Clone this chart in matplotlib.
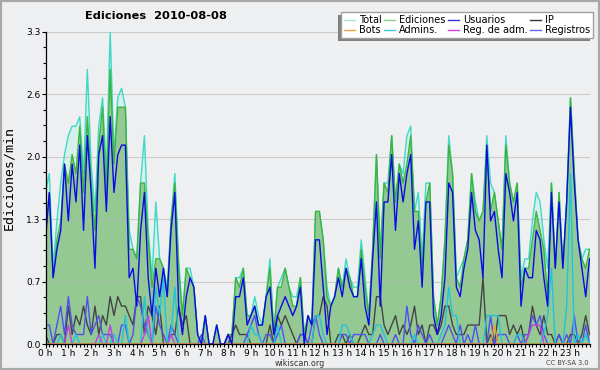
import matplotlib
matplotlib.use('Agg')
import matplotlib.pyplot as plt
from matplotlib.lines import Line2D
from matplotlib.patches import Rectangle
import numpy as np

# edits per minute, one value per 10 minutes (00:00 .. 23:50)
total = [
    1.6, 1.8, 0.8, 1.3, 1.7, 2.0,
    2.2, 2.3, 2.3, 2.4, 1.8, 2.9,
    1.9, 1.4, 2.3, 2.6, 1.8, 3.3,
    2.0, 2.6, 2.7, 2.5, 1.2, 1.0,
    0.9, 1.7, 2.2, 1.2, 0.7, 1.5,
    0.9, 0.8, 0.6, 1.3, 1.8, 0.9,
    0.3, 0.8, 0.8, 0.6, 0.1, 0.0,
    0.3, 0.0, 0.0, 0.2, 0.0, 0.0,
    0.1, 0.1, 0.7, 0.7, 0.8, 0.3,
    0.3, 0.5, 0.3, 0.2, 0.5, 0.9,
    0.1, 0.6, 0.7, 0.8, 0.6, 0.5,
    0.5, 0.7, 0.1, 0.3, 0.2, 1.4,
    1.4, 1.1, 0.6, 0.4, 0.5, 0.8,
    0.6, 0.9, 0.7, 0.6, 0.6, 1.1,
    0.7, 0.3, 1.0, 2.0, 1.0, 1.7,
    1.7, 2.2, 1.5, 1.9, 1.8, 2.2,
    2.3, 1.4, 1.6, 0.9, 1.7, 1.7,
    0.5, 0.2, 0.5, 1.1, 2.2, 1.8,
    0.7, 0.8, 0.9, 1.1, 1.8, 1.5,
    1.3, 1.4, 2.2, 1.7, 1.6, 1.3,
    1.0, 2.2, 1.7, 1.5, 1.7, 0.7,
    0.9, 0.9, 1.3, 1.6, 1.5, 1.1,
    0.8, 1.7, 0.8, 1.6, 0.8, 1.5,
    2.6, 1.8, 1.1, 0.9, 1.0, 1.0,
]
ediciones = [
    1.2, 1.6, 0.7, 1.1, 1.3, 1.9,
    1.7, 2.0, 1.8, 2.3, 1.6, 2.4,
    1.7, 1.2, 2.1, 2.5, 1.6, 2.9,
    1.9, 2.5, 2.5, 2.5, 1.0, 1.0,
    0.9, 1.7, 1.7, 1.1, 0.6, 0.9,
    0.9, 0.8, 0.5, 1.3, 1.7, 0.8,
    0.3, 0.8, 0.7, 0.6, 0.1, 0.0,
    0.3, 0.0, 0.0, 0.2, 0.0, 0.0,
    0.1, 0.1, 0.7, 0.6, 0.8, 0.3,
    0.3, 0.4, 0.2, 0.2, 0.5, 0.8,
    0.1, 0.6, 0.6, 0.8, 0.6, 0.4,
    0.4, 0.7, 0.1, 0.3, 0.2, 1.4,
    1.4, 1.1, 0.5, 0.4, 0.5, 0.8,
    0.6, 0.8, 0.7, 0.5, 0.5, 1.0,
    0.6, 0.3, 1.0, 2.0, 0.9, 1.7,
    1.6, 2.2, 1.5, 1.9, 1.7, 1.9,
    2.2, 1.4, 1.4, 0.8, 1.5, 1.7,
    0.5, 0.2, 0.5, 1.1, 2.1, 1.8,
    0.7, 0.6, 0.9, 1.1, 1.8, 1.4,
    1.3, 1.4, 2.1, 1.4, 1.6, 1.3,
    1.0, 2.1, 1.7, 1.5, 1.7, 0.6,
    0.8, 0.8, 1.1, 1.4, 1.2, 1.0,
    0.5, 1.7, 0.8, 1.6, 0.8, 1.5,
    2.6, 1.8, 1.1, 0.9, 0.8, 1.0,
]
usuarios = [
    1.1, 1.6, 0.7, 1.0, 1.2, 1.9,
    1.3, 1.9, 1.5, 2.1, 1.2, 2.2,
    1.6, 0.8, 2.0, 2.2, 1.4, 2.4,
    1.6, 2.0, 2.1, 2.1, 0.7, 0.8,
    0.4, 1.2, 1.6, 0.7, 0.3, 0.8,
    0.5, 0.8, 0.5, 1.2, 1.6, 0.4,
    0.1, 0.5, 0.7, 0.6, 0.1, 0.0,
    0.3, 0.0, 0.0, 0.2, 0.0, 0.0,
    0.1, 0.0, 0.5, 0.5, 0.7, 0.2,
    0.3, 0.4, 0.2, 0.2, 0.5, 0.6,
    0.1, 0.3, 0.4, 0.5, 0.4, 0.3,
    0.4, 0.6, 0.0, 0.3, 0.2, 1.1,
    1.1, 0.6, 0.1, 0.4, 0.5, 0.7,
    0.5, 0.8, 0.6, 0.5, 0.5, 0.9,
    0.4, 0.2, 0.9, 1.5, 0.4, 1.5,
    1.5, 2.0, 1.2, 1.8, 1.5, 1.8,
    2.0, 1.0, 1.3, 0.6, 1.5, 1.5,
    0.3, 0.1, 0.3, 0.7, 1.7, 1.6,
    0.6, 0.5, 0.8, 1.0, 1.6, 1.2,
    1.1, 0.7, 2.1, 1.3, 1.4, 1.0,
    0.7, 1.8, 1.6, 1.3, 1.6, 0.4,
    0.8, 0.7, 0.7, 1.2, 1.1, 0.7,
    0.4, 1.6, 0.8, 1.5, 0.8, 1.5,
    2.5, 1.7, 1.1, 0.8, 0.5, 0.9,
]
ip = [
    0.1, 0.0, 0.0, 0.1, 0.1, 0.0,
    0.4, 0.1, 0.3, 0.2, 0.4, 0.2,
    0.1, 0.4, 0.1, 0.3, 0.2, 0.5,
    0.3, 0.5, 0.4, 0.4, 0.3, 0.2,
    0.5, 0.5, 0.1, 0.4, 0.3, 0.1,
    0.4, 0.0, 0.0, 0.1, 0.1, 0.4,
    0.2, 0.3, 0.0, 0.0, 0.0, 0.0,
    0.0, 0.0, 0.0, 0.0, 0.0, 0.0,
    0.0, 0.1, 0.2, 0.1, 0.1, 0.1,
    0.0, 0.0, 0.0, 0.0, 0.0, 0.2,
    0.0, 0.3, 0.2, 0.3, 0.2, 0.1,
    0.0, 0.1, 0.1, 0.0, 0.0, 0.3,
    0.3, 0.5, 0.4, 0.0, 0.0, 0.1,
    0.1, 0.0, 0.1, 0.0, 0.0, 0.1,
    0.2, 0.1, 0.1, 0.5, 0.5, 0.2,
    0.1, 0.2, 0.3, 0.1, 0.2, 0.1,
    0.2, 0.4, 0.1, 0.2, 0.0, 0.2,
    0.2, 0.1, 0.2, 0.4, 0.4, 0.2,
    0.1, 0.1, 0.1, 0.2, 0.2, 0.2,
    0.2, 0.7, 0.0, 0.1, 0.0, 0.3,
    0.3, 0.3, 0.1, 0.2, 0.1, 0.2,
    0.0, 0.1, 0.4, 0.2, 0.1, 0.3,
    0.1, 0.1, 0.0, 0.1, 0.0, 0.0,
    0.1, 0.1, 0.0, 0.1, 0.3, 0.1,
]
bots = [0.0] * 118 + [0.2] + [0.0] * 25
admins = [
    0.0, 0.0, 0.0, 0.0, 0.1, 0.0,
    0.0, 0.0, 0.1, 0.0, 0.0, 0.0,
    0.0, 0.0, 0.0, 0.1, 0.0, 0.0,
    0.1, 0.0, 0.0, 0.3, 0.0, 0.0,
    0.0, 0.0, 0.5, 0.1, 0.0, 0.6,
    0.3, 0.7, 0.0, 0.1, 0.6, 0.0,
    0.0, 0.0, 0.0, 0.0, 0.0, 0.0,
    0.0, 0.0, 0.0, 0.0, 0.0, 0.0,
    0.0, 0.0, 0.0, 0.0, 0.0, 0.0,
    0.2, 0.1, 0.1, 0.0, 0.0, 0.0,
    0.0, 0.2, 0.0, 0.0, 0.0, 0.0,
    0.0, 0.0, 0.0, 0.0, 0.0, 0.3,
    0.3, 0.1, 0.0, 0.0, 0.0, 0.0,
    0.2, 0.2, 0.1, 0.0, 0.0, 0.0,
    0.0, 0.0, 0.1, 0.2, 0.2, 0.1,
    0.0, 0.0, 0.0, 0.0, 0.0, 0.0,
    0.0, 0.1, 0.0, 0.0, 0.0, 0.0,
    0.0, 0.0, 0.1, 0.2, 0.6, 0.3,
    0.3, 0.0, 0.0, 0.0, 0.0, 0.0,
    0.0, 0.0, 0.3, 0.3, 0.3, 0.3,
    0.0, 0.0, 0.0, 0.0, 0.1, 0.1,
    0.0, 0.0, 0.0, 0.0, 0.0, 0.1,
    0.3, 0.8, 0.0, 0.0, 0.0, 0.4,
    1.8, 0.0, 0.1, 0.0, 0.1, 0.0,
]
reg_adm = [
    0.0, 0.0, 0.0, 0.0, 0.0, 0.0,
    0.2, 0.0, 0.0, 0.0, 0.0, 0.0,
    0.0, 0.0, 0.1, 0.0, 0.0, 0.2,
    0.0, 0.0, 0.0, 0.0, 0.0, 0.0,
    0.0, 0.0, 0.1, 0.3, 0.0, 0.0,
    0.0, 0.0, 0.0, 0.1, 0.0, 0.0,
] + [0.0] * 91 + [0.1, 0.2, 0.2, 0.2] + [0.0] * 13
registros = [
    0.2, 0.2, 0.0, 0.2, 0.4, 0.1,
    0.5, 0.2, 0.1, 0.1, 0.1, 0.5,
    0.1, 0.2, 0.3, 0.1, 0.1, 0.1,
    0.0, 0.0, 0.2, 0.2, 0.0, 0.1,
    0.5, 0.4, 0.2, 0.1, 0.0, 0.4,
    0.2, 0.1, 0.0, 0.2, 0.1, 0.0,
    0.0, 0.0, 0.0, 0.0, 0.0, 0.1,
    0.0, 0.0, 0.0, 0.0, 0.0, 0.0,
    0.1, 0.0, 0.0, 0.0, 0.0, 0.1,
    0.2, 0.3, 0.1, 0.0, 0.1, 0.1,
    0.0, 0.1, 0.2, 0.0, 0.0, 0.0,
    0.0, 0.1, 0.1, 0.0, 0.2, 0.3,
    0.1, 0.0, 0.0, 0.0, 0.0, 0.0,
    0.1, 0.1, 0.0, 0.1, 0.1, 0.1,
    0.1, 0.0, 0.0, 0.0, 0.1, 0.0,
    0.0, 0.0, 0.1, 0.0, 0.0, 0.4,
    0.1, 0.0, 0.2, 0.1, 0.0, 0.1,
    0.0, 0.0, 0.0, 0.1, 0.2, 0.1,
    0.0, 0.2, 0.0, 0.1, 0.0, 0.2,
    0.0, 0.0, 0.0, 0.3, 0.0, 0.1,
    0.1, 0.1, 0.0, 0.0, 0.1, 0.0,
    0.1, 0.1, 0.3, 0.2, 0.3, 0.1,
    0.0, 0.0, 0.0, 0.1, 0.0, 0.1,
    0.0, 0.3, 0.0, 0.0, 0.2, 0.0,
]

hour_labels = ['%d h' % h for h in range(24)]
y_ticks = [0.0, 0.66, 1.32, 1.98, 2.64, 3.3]
y_labels = ['0.0', '0.7', '1.3', '2.0', '2.6', '3.3']

bg = '#eeeff1'
x = np.arange(len(total))

fig = plt.figure(figsize=(6, 3.7), dpi=100)
fig.patch.set_facecolor(bg)
ax = fig.add_axes([45.5 / 600, 1 - 344 / 370, 544 / 600, 312.5 / 370])
ax.set_facecolor(bg)

ax.fill_between(x, total, color='#d6f1ec', lw=0, zorder=1)
ax.fill_between(x, ediciones, color='#94c994', lw=0, zorder=2)
for yv in y_ticks[1:]:
    ax.axhline(yv, color='#b4b4b4', lw=0.8, alpha=0.6, zorder=2.5)
ax.plot(x, total, color='#40d8c8', lw=1, zorder=3)
ax.plot(x, ediciones, color='#3cb43c', lw=1, zorder=4)
ax.plot(x, ip, color='#444444', lw=1, zorder=5)
ax.plot(x, registros, color='#5050f0', lw=1, zorder=5)
ax.plot(x, admins, color='#20c4dc', lw=1, zorder=5)
ax.plot(x, reg_adm, color='#c040e0', lw=1, zorder=5)
ax.plot(x, bots, color='#f0a020', lw=1, zorder=5)
ax.plot(x, usuarios, color='#0a0ae6', lw=1, zorder=6)

ax.set_xlim(0, 143)
ax.set_ylim(0, 3.3)
ax.set_xticks(range(0, 144, 6))
ax.set_xticklabels(hour_labels)
ax.set_xticks(range(0, 144), minor=True)
ax.set_yticks(y_ticks)
ax.set_yticklabels(y_labels)
ax.set_yticks(np.arange(0, 3.31, 0.165), minor=True)
for s in ['top', 'right']:
    ax.spines[s].set_visible(False)
for s in ['left', 'bottom']:
    ax.spines[s].set_linewidth(0.9)
    ax.spines[s].set_zorder(7)
ax.tick_params(which='major', length=3, width=0.8, labelsize=6.5, pad=0.5)
ax.tick_params(which='minor', length=2.2, width=0.8)

fig.text(85 / 600, 1 - 16 / 370, 'Ediciones  2010-08-08', fontsize=8.2,
         fontweight='bold', ha='left', va='center')
fig.text(9 / 600, 1 - 178 / 370, 'Ediciones/min', rotation=90,
         family='DejaVu Sans Mono', fontsize=9.5, ha='center', va='center')
fig.text(300 / 600, 1 - 363.5 / 370, 'wikiscan.org', fontsize=5.8,
         ha='center', va='center', color='#333333')
fig.text(589 / 600, 1 - 363 / 370, 'CC BY-SA 3.0', fontsize=4.8,
         ha='right', va='center', color='#444444')

# legend, filled column by column
names = ['Total', 'Bots', 'Ediciones', 'Admins.', 'Usuarios', 'Reg. de adm.', 'IP', 'Registros']
colors = ['#a6e6de', '#f0a040', '#8cd08c', '#40c8e0', '#3434d4', '#d040e0', '#333333', '#6868f0']
handles = [Line2D([], [], color=c, lw=1) for c in colors]
leg = fig.legend(handles, names, loc='upper right', bbox_to_anchor=(593 / 600, 1 - 12 / 370),
                 ncol=4, fontsize=7, frameon=True, fancybox=False, edgecolor='#a0a0a0',
                 facecolor='white', framealpha=1, borderpad=0.3, labelspacing=0.05,
                 handlelength=1.1, handletextpad=0.4, columnspacing=0.3, borderaxespad=0)
leg.get_frame().set_linewidth(1)
fig.canvas.draw()
bb = leg.get_window_extent()
inv = fig.transFigure.inverted()
(x0, y0), (x1, y1) = inv.transform([(bb.x0 - 3, bb.y0 - 3), (bb.x1 - 3, bb.y1 - 3)])
fig.add_artist(Rectangle((x0, y0), x1 - x0, y1 - y0, transform=fig.transFigure,
                         facecolor='#808080', edgecolor='none', zorder=4))

fig.add_artist(Rectangle((0, 0), 1, 1, transform=fig.transFigure, fill=False,
                         edgecolor='#a8a8a8', lw=3, zorder=10))

fig.savefig('out.png', dpi=100, facecolor=bg)
